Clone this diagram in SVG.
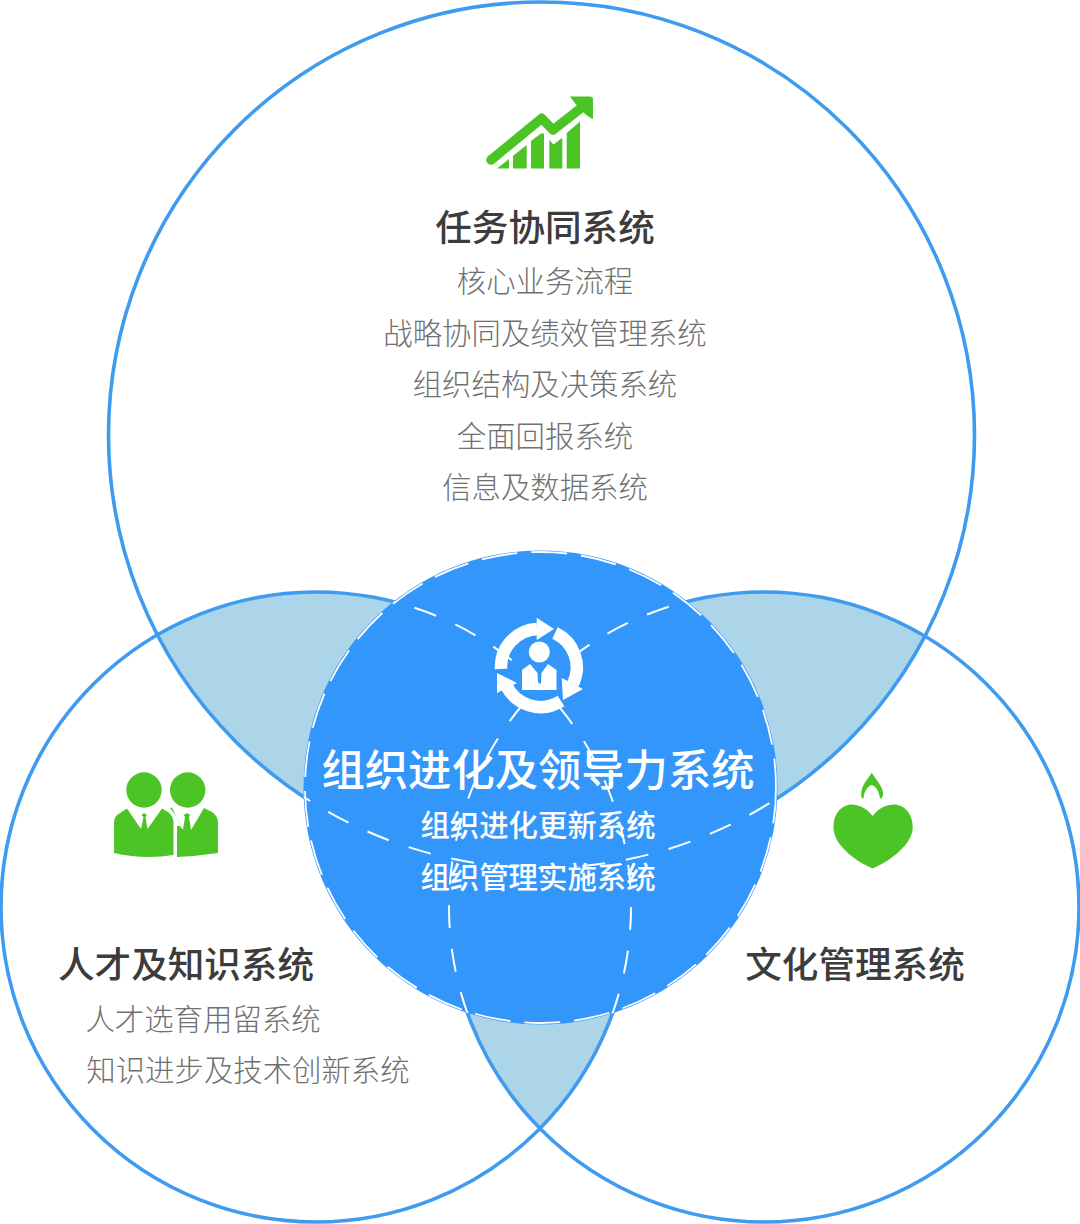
<svg xmlns="http://www.w3.org/2000/svg" width="1080" height="1224" viewBox="0 0 1080 1224">
<style>
text{font-family:"Noto Sans CJK SC","Liberation Sans",sans-serif;text-anchor:middle}
.ring{fill:none;stroke:#3f9bf0;stroke-width:3.600}
.dash{fill:none;stroke:#fff;stroke-width:2;stroke-dasharray:23 21}
.edge{fill:none;stroke:#fff;stroke-width:1.800;stroke-dasharray:36 14}
.lens{fill:#acd5ea}
.h{font-size:36.6px;font-weight:500;fill:#3c3c3c}
.s{font-size:29.4px;font-weight:300;fill:#707070}
.w{font-size:29.4px;font-weight:500;fill:#fff}
.g{fill:#4cc425}
.ic{fill:none;stroke:#fff;stroke-width:12.500}
</style>
<defs>
<clipPath id="cT"><circle cx="541.5" cy="435" r="433"/></clipPath>
<clipPath id="cL"><circle cx="316" cy="907" r="315"/></clipPath>
<clipPath id="cR"><circle cx="764" cy="907" r="315"/></clipPath>
<clipPath id="cC"><circle cx="540.5" cy="787.5" r="237"/></clipPath>
</defs>
<rect width="1080" height="1224" fill="#fff"/>
<g id="overlaps">
<g clip-path="url(#cT)"><circle class="lens" cx="316" cy="907" r="315"/><circle class="lens" cx="764" cy="907" r="315"/></g>
<g clip-path="url(#cL)"><circle class="lens" cx="764" cy="907" r="315"/></g>
</g>
<g id="connectors">
<circle class="ring" cx="541.5" cy="435" r="433"/>
<circle class="ring" cx="316" cy="907" r="315"/>
<circle class="ring" cx="764" cy="907" r="315"/>
</g>
<g id="center-node">
<circle cx="540.5" cy="787.5" r="237" fill="#3396fb"/>
<g clip-path="url(#cC)">
<circle class="dash" cx="541.5" cy="435" r="433"/>
<circle class="dash" cx="316" cy="907" r="315"/>
<circle class="dash" cx="764" cy="907" r="315"/>
</g>
<circle class="edge" cx="540.5" cy="787.5" r="235.500"/>
<g id="center-icon">
<path class="ic" d="M501 669A38 38 0 0 1 537 629"/>
<path class="ic" d="M555 633A38 38 0 0 1 573 684"/>
<path class="ic" d="M561 701A38 38 0 0 1 506 685"/>
<path fill="#fff" d="M536.700 617.700L554 629 536.700 640ZM561.700 678L583 689 563 700ZM497 673L517 683 497 693Z"/>
<circle cx="539.300" cy="652" r="10.500" fill="#fff"/>
<path fill="#fff" d="M522 670L530 664 537.500 673 538 684 541 684 541.500 673 548 664 556.500 670 556.500 690 522 690Z"/>
</g>
<text x="538" y="786" font-size="43.300px" font-weight="500" fill="#fff">组织进化及领导力系统</text>
<text class="w" x="538" y="836">组织进化更新系统</text>
<text class="w" x="538" y="888">组织管理实施系统</text>
</g>
<g id="task-node">
<g id="chart-icon" class="g">
<path d="M491 160L541.700 118.300 553 130 585 105" fill="none" stroke="#4cc425" stroke-width="9.500" stroke-linecap="round" stroke-linejoin="round"/>
<path d="M570 96.500L590 96.500Q593 96.500 593 99.500L593 119 Q583 115 570 96.500Z"/>
<path d="M497 168.500L509 159 509 168.500ZM513 168.500L513 155.700 526.700 145 526.700 168.500ZM531 168.500L531 141 541 133.500 544 133.500 544 168.500ZM549.300 168.500L549.300 140 553.500 144.500 562.300 137.700 562.300 168.500ZM566.700 168.500L566.700 133 580 121.500 580 168.500Z"/>
</g>
<text class="h" x="545" y="241">任务协同系统</text>
<text class="s" x="545" y="292">核心业务流程</text>
<text class="s" x="545" y="344">战略协同及绩效管理系统</text>
<text class="s" x="545" y="395">组织结构及决策系统</text>
<text class="s" x="545" y="447">全面回报系统</text>
<text class="s" x="545" y="498">信息及数据系统</text>
</g>
<g id="talent-node">
<g id="people-icon" class="g">
<circle cx="144" cy="790" r="17.700"/>
<circle cx="187.700" cy="790" r="17.700"/>
<path d="M114 823Q114 816 120 813L127 808.500 141 829 143.500 817 141.500 815 144 813 147 815 145.500 817 147.500 829 162 808.500 168 812Q173.500 816 173.500 823L173.500 855Q144 860 114 853Z"/>
<path d="M170 808L172 807.500 180 825Q177 816 170 808ZM177 826L180 826Q182 829 183 829.500L185 817 183.500 815 187.500 813 190 815 189 817 191 830 204 808 212 812Q218 816 218 823L218 853Q198 856 177 857Z"/>
</g>
<text class="h" x="186" y="978">人才及知识系统</text>
<text class="s" x="203" y="1030">人才选育用留系统</text>
<text class="s" x="248" y="1081">知识进步及技术创新系统</text>
</g>
<g id="culture-node">
<g id="heart-icon" class="g">
<path d="M872.700 816C866 807 857 804 850 804.500 840 806 833 815 833.500 828 834 845 855 861 872.700 868.500 890 861 912 845 912.700 828 913 815 906 806 896 804.500 888 804 879 807 872.700 816Z"/>
<path d="M871.700 772.700C877 781 884 788 883 795 882.500 798 881 799 880 798.500 879 790 875 786 871.700 785 868 786 864 791 863.500 798.500 862 799 860.500 797 861.500 791 863 783 868 779 871.700 772.700Z"/>
</g>
<text class="h" x="855" y="978">文化管理系统</text>
</g>
</svg>
